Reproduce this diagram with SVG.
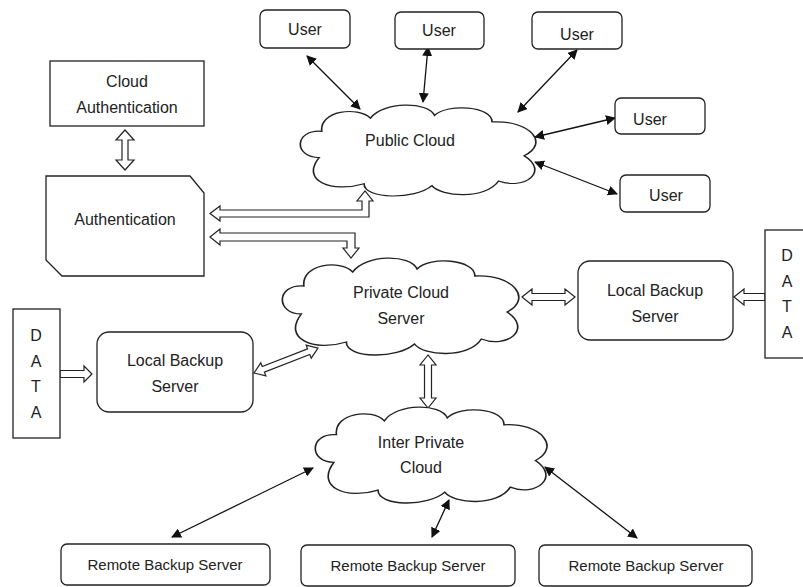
<svg xmlns="http://www.w3.org/2000/svg" width="803" height="587" viewBox="0 0 803 587">
<style>
.box{fill:#fff;stroke:#222;stroke-width:1.3}
.t{font-family:"Liberation Sans",Arial,sans-serif;font-size:16px;fill:#222;text-anchor:middle}
.rt{font-size:15px}
.cloud{fill:#fff;stroke:#222;stroke-width:1.3;vector-effect:non-scaling-stroke}
.ha{fill:#fff;stroke:#222;stroke-width:1.2;stroke-linejoin:miter}
.ln{stroke:#111;stroke-width:1.3;fill:none;marker-start:url(#ah);marker-end:url(#ah)}
</style>
<defs>
<marker id="ah" viewBox="0 0 10 10" refX="9" refY="5" markerWidth="10" markerHeight="10" markerUnits="userSpaceOnUse" orient="auto-start-reverse">
<path d="M0,0 L10,5 L0,10 Z" fill="#111"/>
</marker>
<path id="cl" d="M20,60 C0,60 0,30 22,32 C20,10 50,5 60,18 C70,0 105,0 110,15 C120,2 155,5 155,22 C185,20 200,45 180,58 C200,75 180,95 160,85 C150,105 115,102 108,90 C95,105 55,105 55,88 C30,98 5,85 20,60 Z"/>
</defs>
<rect width="803" height="587" fill="#fff"/>

<g id="connectors">
<line class="ln" x1="307" y1="56" x2="360" y2="109"/>
<line class="ln" x1="428" y1="47" x2="423" y2="102"/>
<line class="ln" x1="577" y1="50" x2="518" y2="112"/>
<line class="ln" x1="615" y1="118" x2="535" y2="137"/>
<line class="ln" x1="535" y1="162" x2="617" y2="194"/>
<line class="ln" x1="313" y1="468" x2="172" y2="537"/>
<line class="ln" x1="449" y1="500" x2="432" y2="537"/>
<line class="ln" x1="545" y1="467" x2="637" y2="538"/>
<polygon class="ha" points="125,130 116,140 122,140 122,160 116,160 125,170 134,160 128,160 128,140 134,140"/>
<polygon class="ha" points="210,213.5 220,206 220,210 362,210 362,201 357,201 365,191 373,201 369,201 369,217 220,217 220,221"/>
<polygon class="ha" points="210,237 220,229 220,233 355,233 355,248 359,248 351,258 343,248 347,248 347,241 220,241 220,245"/>
<polygon class="ha" points="522,297 532,289 532,293.5 565,293.5 565,289 575,297 565,305 565,300.5 532,300.5 532,305"/>
<polygon class="ha" points="734,297 744,289 744,293.5 765,293.5 765,300.5 744,300.5 744,305"/>
<polygon class="ha" points="60,370.5 84,370.5 84,366 92,374 84,382 84,377.5 60,377.5"/>
<polygon class="ha" transform="translate(254,373) rotate(-21.3)" points="0,0 10,-7 10,-3 58.7,-3 58.7,-7 68.7,0 58.7,7 58.7,3 10,3 10,7"/>
<polygon class="ha" points="428,355 420,365 424.5,365 424.5,398 420,398 428,408 436,398 431.5,398 431.5,365 436,365"/>
</g>

<g id="user1"><rect class="box" x="260" y="10" width="90" height="38" rx="6"/><text class="t" x="305" y="35">User</text></g>
<g id="user2"><rect class="box" x="395" y="12" width="89" height="37" rx="6"/><text class="t" x="439" y="36">User</text></g>
<g id="user3"><rect class="box" x="532" y="12" width="90" height="37" rx="6"/><text class="t" x="577" y="40">User</text></g>
<g id="user4"><rect class="box" x="615" y="98" width="90" height="36" rx="6"/><text class="t" x="650" y="125">User</text></g>
<g id="user5"><rect class="box" x="620" y="175" width="90" height="37" rx="6"/><text class="t" x="666" y="201">User</text></g>

<g id="cloud-auth"><rect class="box" x="50" y="61" width="154" height="65"/><text class="t" x="127" y="87">Cloud</text><text class="t" x="127" y="113">Authentication</text></g>
<g id="auth"><polygon class="box" points="46,176 190,176 204,193 204,276 62,276 46,260"/><text class="t" x="125" y="225">Authentication</text></g>

<g id="public-cloud"><use href="#cl" class="cloud" transform="translate(293.6,101.3) scale(1.281,0.9375)"/><text class="t" x="410" y="146">Public Cloud</text></g>
<g id="private-cloud"><use href="#cl" class="cloud" transform="translate(275.6,254) scale(1.286,1)"/><text class="t" x="401" y="298">Private Cloud</text><text class="t" x="401" y="324">Server</text></g>
<g id="inter-cloud"><use href="#cl" class="cloud" transform="translate(308.7,403) scale(1.26,0.99)"/><text class="t" x="421" y="448">Inter Private</text><text class="t" x="421" y="473">Cloud</text></g>

<g id="local-backup-right"><rect class="box" x="578" y="261" width="155" height="79" rx="12"/><text class="t" x="655" y="296">Local Backup</text><text class="t" x="655" y="322">Server</text></g>
<g id="data-right"><rect class="box" x="765" y="230" width="50" height="128"/><text class="t" x="787" y="261">D</text><text class="t" x="787" y="287">A</text><text class="t" x="787" y="312">T</text><text class="t" x="787" y="338">A</text></g>
<g id="local-backup-left"><rect class="box" x="97" y="332" width="156" height="80" rx="12"/><text class="t" x="175" y="366">Local Backup</text><text class="t" x="175" y="392">Server</text></g>
<g id="data-left"><rect class="box" x="13" y="309" width="47" height="129"/><text class="t" x="36" y="341">D</text><text class="t" x="36" y="367">A</text><text class="t" x="36" y="392">T</text><text class="t" x="36" y="418">A</text></g>

<g id="remote1"><rect class="box" x="61" y="544" width="209" height="41" rx="6"/><text class="t rt" x="165" y="570">Remote Backup Server</text></g>
<g id="remote2"><rect class="box" x="301" y="545" width="214" height="41" rx="6"/><text class="t rt" x="408" y="571">Remote Backup Server</text></g>
<g id="remote3"><rect class="box" x="539" y="545" width="213" height="41" rx="6"/><text class="t rt" x="646" y="571">Remote Backup Server</text></g>
</svg>
